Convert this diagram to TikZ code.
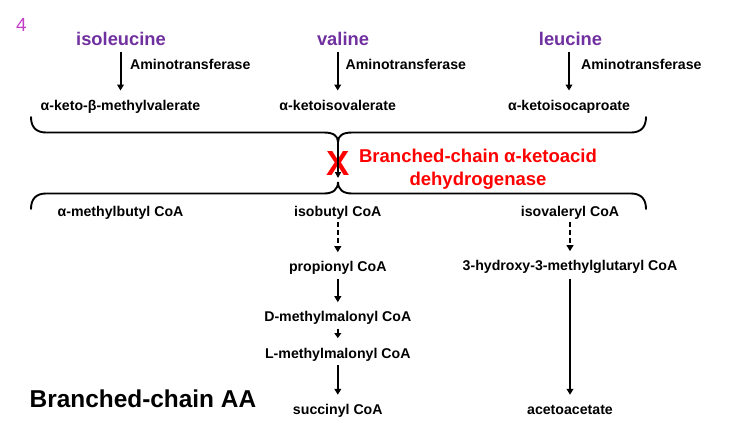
\documentclass[tikz,border=0pt]{standalone}
\usepackage{fontspec}
\setmainfont{Liberation Sans}
\usetikzlibrary{arrows.meta}
\definecolor{aapurple}{HTML}{7030A0}
\definecolor{nummag}{HTML}{C23FC8}
\definecolor{enzred}{HTML}{FF0000}
\begin{document}
\begin{tikzpicture}[x=1bp,y=-1bp,
  lbl/.style={font=\fontsize{14.2}{16}\selectfont\bfseries, inner sep=0pt, text height=10bp, text depth=3bp, anchor=base},
  aa/.style={font=\fontsize{18.4}{20}\selectfont\bfseries, text=aapurple, inner sep=0pt, text height=13bp, text depth=0bp, anchor=base},
  enz/.style={font=\fontsize{18.6}{23.4}\selectfont\bfseries, text=enzred, inner sep=0pt, align=center},
  arr/.style={line width=2bp, -{Triangle[width=6.7bp,length=6bp]}, shorten >=9.3bp, shorten <=3.6bp},
  darr/.style={arr, dash pattern=on 5bp off 3bp},
  brace/.style={line width=1.9bp, line cap=round}
]
\useasboundingbox (0,0) rectangle (738,420);

% number
\node[font=\fontsize{19}{20}\selectfont, text=nummag, inner sep=0pt, anchor=base west] (num) at (16,31) {4};

% amino acids
\node[aa] (ile) at (121,45) {isoleucine};
\node[aa] (val) at (343,45) {valine};
\node[aa] (leu) at (570.5,45) {leucine};

% keto acids
\node[lbl] (kmv) at (120.5,110) {α-keto-β-methylvalerate};
\node[lbl] (kiv) at (337.7,110) {α-ketoisovalerate};
\node[lbl] (kic) at (569,110) {α-ketoisocaproate};

% transamination arrows
\draw[arr, shorten <=6.7bp] (ile.south -| kmv) -- (kmv.north);
\draw[arr, shorten <=6.7bp] (val.south -| kiv) -- (kiv.north);
\draw[arr, shorten <=6.7bp] (leu.south -| kic) -- (kic.north);
\node[lbl, anchor=base west] (at1) at (130,69.3) {Aminotransferase};
\node[lbl, anchor=base west] (at2) at (345.5,69.3) {Aminotransferase};
\node[lbl, anchor=base west] (at3) at (581,69.3) {Aminotransferase};

% braces
\draw[brace] (31,117) .. controls (31,127) and (36,132.5) .. (46,132.5)
  -- (324,132.5) .. controls (333,132.5) and (338,135.5) .. (338,142)
  .. controls (338,135.5) and (343,132.5) .. (352,132.5)
  -- (631,132.5) .. controls (641,132.5) and (646,127) .. (646,117);
\draw[brace] (31,209) .. controls (31,199) and (36,193.5) .. (46,193.5)
  -- (324,193.5) .. controls (333,193.5) and (338,189.5) .. (338,182)
  .. controls (338,189.5) and (343,193.5) .. (352,193.5)
  -- (631,193.5) .. controls (641,193.5) and (646,199) .. (646,209);
\coordinate (cusptop) at (338,142);
\coordinate (cuspbot) at (338,182);

% enzyme
\node[font=\fontsize{35}{36}\selectfont\bfseries, text=enzred, inner sep=0pt, anchor=base] (x) at (338,175) {X};
\draw[line width=1.8bp, -{Triangle[width=6bp,length=6bp]}, shorten >=4bp] (cusptop) -- (cuspbot);
\node[enz, anchor=north] (enz) at (478,148.8) {Branched-chain α-ketoacid\\dehydrogenase};

% acyl CoA
\node[lbl] (mbc) at (120.5,216) {α-methylbutyl CoA};
\node[lbl] (ibc) at (337.8,216) {isobutyl CoA};
\node[lbl] (ivc) at (570,216) {isovaleryl CoA};

% valine branch
\node[lbl] (prc) at (337.8,271.7) {propionyl CoA};
\node[lbl] (dmm) at (337.8,321.7) {D-methylmalonyl CoA};
\node[lbl] (lmm) at (337.8,358.3) {L-methylmalonyl CoA};
\node[lbl] (suc) at (337.8,414.3) {succinyl CoA};
\draw[darr, shorten <=3bp] (ibc) -- (prc);
\draw[arr] (prc) -- (dmm);
\draw[arr, shorten >=10bp, -{Triangle[width=6.7bp,length=5bp]}] (dmm) -- (lmm);
\draw[arr] (lmm) -- (suc);

% leucine branch
\node[lbl] (hmg) at (570,270.7) {3-hydroxy-3-methylglutaryl CoA};
\node[lbl] (aca) at (570,414.3) {acetoacetate};
\draw[darr, shorten <=3bp] (ivc) -- (hmg);
\draw[arr, shorten <=4.6bp] (hmg) -- (aca);

% title
\node[font=\fontsize{24.5}{26}\selectfont\bfseries, inner sep=0pt, anchor=base west] (title) at (29.5,407.7) {Branched-chain AA};
\end{tikzpicture}
\end{document}
